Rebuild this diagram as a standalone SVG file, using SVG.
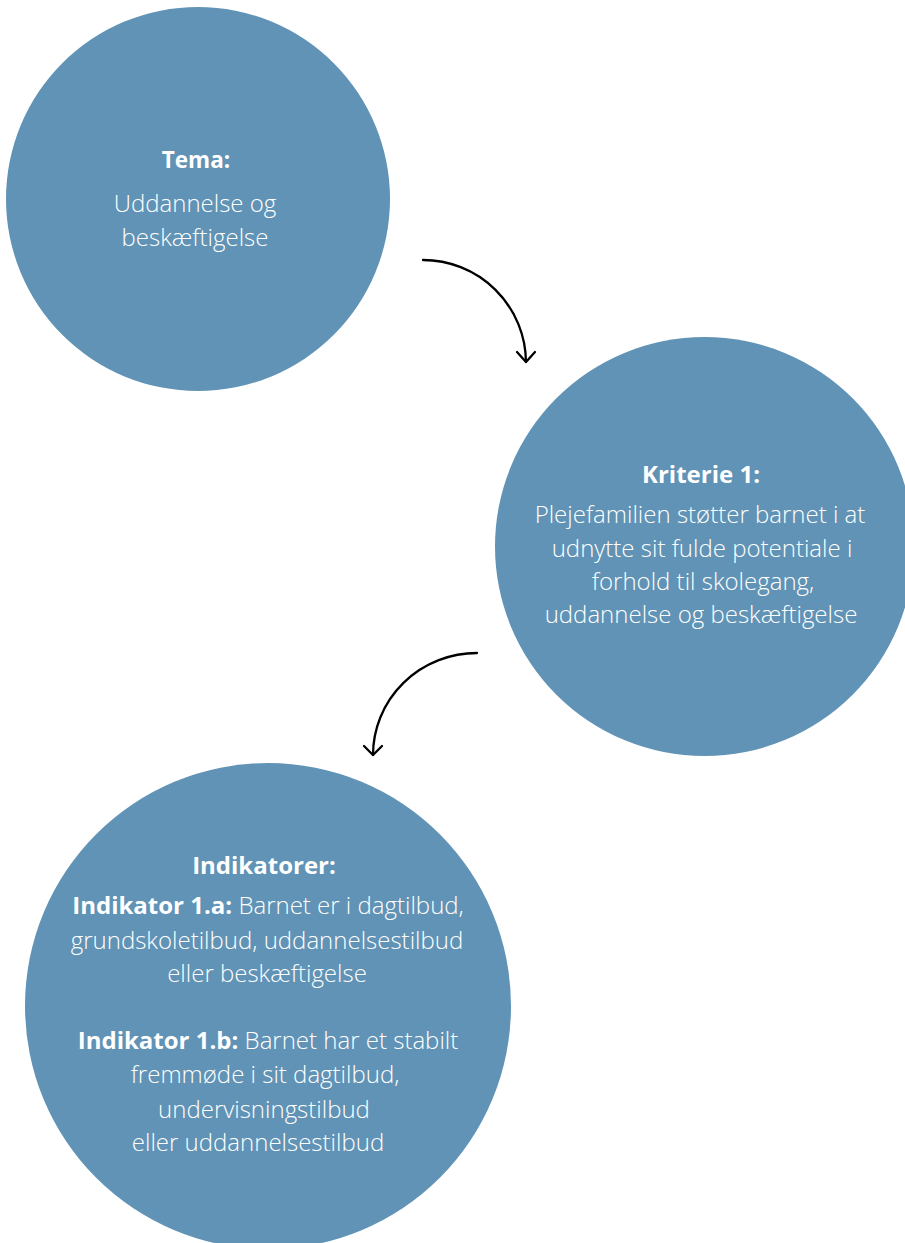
<svg xmlns="http://www.w3.org/2000/svg" width="905" height="1243" viewBox="0 0 905 1243">
<style>
.c{fill:#6093b5}
text{font-family:"Open Sans","Noto Sans","Liberation Sans",sans-serif;fill:#ffffff;text-anchor:middle;font-size:24px;font-weight:300}
.b{font-weight:700}
.a{fill:none;stroke:#000;stroke-width:2.3;stroke-linecap:round;stroke-linejoin:round}
</style>
<rect width="905" height="1243" fill="#ffffff"/>
<g id="tema">
<circle class="c" cx="198" cy="199" r="192"/>
<text x="196" y="168" class="b" style="font-size:22.5px">Tema:</text>
<text x="195" y="212">Uddannelse og</text>
<text x="195" y="246">beskæftigelse</text>
</g>
<g id="kriterie">
<circle class="c" cx="704.5" cy="546.5" r="209.5"/>
<text x="701" y="483" class="b">Kriterie 1:</text>
<text x="700" y="523">Plejefamilien støtter barnet i at</text>
<text x="702" y="557">udnytte sit fulde potentiale i</text>
<text x="703" y="590">forhold til skolegang,</text>
<text x="701" y="623">uddannelse og beskæftigelse</text>
</g>
<g id="indikatorer">
<circle class="c" cx="268" cy="1006" r="243"/>
<text x="264" y="874" class="b">Indikatorer:</text>
<text x="268" y="914"><tspan class="b">Indikator 1.a:</tspan> Barnet er i dagtilbud,</text>
<text x="267" y="949">grundskoletilbud, uddannelsestilbud</text>
<text x="267" y="982">eller beskæftigelse</text>
<text x="268" y="1049"><tspan class="b">Indikator 1.b:</tspan> Barnet har et stabilt</text>
<text x="265" y="1083">fremmøde i sit dagtilbud,</text>
<text x="264" y="1118">undervisningstilbud</text>
<text x="258" y="1151">eller uddannelsestilbud</text>
</g>
<g id="connectors">
<path class="a" d="M423 260 A103 103 0 0 1 526 362"/>
<path class="a" d="M517 352 L526 362 L535 352"/>
<path class="a" d="M477 653 A104 102 0 0 0 373 755"/>
<path class="a" d="M364 746 L373 755 L382 746"/>
</g>
</svg>
